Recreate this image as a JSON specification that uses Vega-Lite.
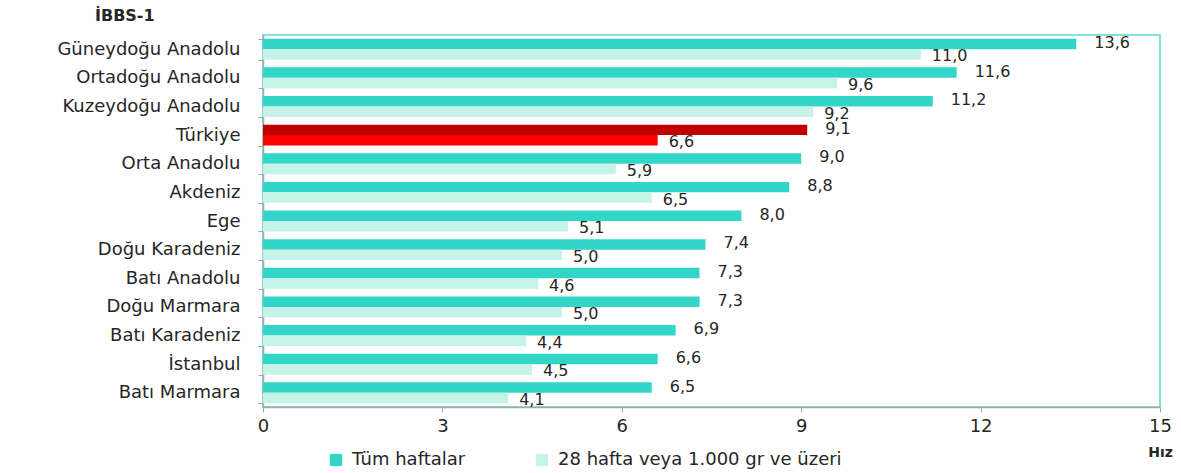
{
  "$schema": "https://vega.github.io/schema/vega-lite/v6.json",
  "width": 897,
  "height": 372,
  "autosize": {"type": "none"},
  "padding": {"left": 263, "top": 35, "right": 21, "bottom": 66},
  "background": "white",
  "title": {"text": "İBBS-1", "anchor": "start", "frame": "group", "dx": -168, "dy": 0, "offset": 2, "font": "DejaVu Sans", "fontSize": 16, "fontWeight": "bold", "color": "#262626"},
  "config": {
    "view": {"stroke": "#7FE3D9", "strokeWidth": 2},
    "font": "DejaVu Sans"
  },
  "data": {"values": [
    {"bolge": "Güneydoğu Anadolu", "seri": "Tüm haftalar", "deger": 13.6},
    {"bolge": "Güneydoğu Anadolu", "seri": "28 hafta veya 1.000 gr ve üzeri", "deger": 11.0},
    {"bolge": "Ortadoğu Anadolu", "seri": "Tüm haftalar", "deger": 11.6},
    {"bolge": "Ortadoğu Anadolu", "seri": "28 hafta veya 1.000 gr ve üzeri", "deger": 9.6},
    {"bolge": "Kuzeydoğu Anadolu", "seri": "Tüm haftalar", "deger": 11.2},
    {"bolge": "Kuzeydoğu Anadolu", "seri": "28 hafta veya 1.000 gr ve üzeri", "deger": 9.2},
    {"bolge": "Türkiye", "seri": "Tüm haftalar", "deger": 9.1},
    {"bolge": "Türkiye", "seri": "28 hafta veya 1.000 gr ve üzeri", "deger": 6.6},
    {"bolge": "Orta Anadolu", "seri": "Tüm haftalar", "deger": 9.0},
    {"bolge": "Orta Anadolu", "seri": "28 hafta veya 1.000 gr ve üzeri", "deger": 5.9},
    {"bolge": "Akdeniz", "seri": "Tüm haftalar", "deger": 8.8},
    {"bolge": "Akdeniz", "seri": "28 hafta veya 1.000 gr ve üzeri", "deger": 6.5},
    {"bolge": "Ege", "seri": "Tüm haftalar", "deger": 8.0},
    {"bolge": "Ege", "seri": "28 hafta veya 1.000 gr ve üzeri", "deger": 5.1},
    {"bolge": "Doğu Karadeniz", "seri": "Tüm haftalar", "deger": 7.4},
    {"bolge": "Doğu Karadeniz", "seri": "28 hafta veya 1.000 gr ve üzeri", "deger": 5.0},
    {"bolge": "Batı Anadolu", "seri": "Tüm haftalar", "deger": 7.3},
    {"bolge": "Batı Anadolu", "seri": "28 hafta veya 1.000 gr ve üzeri", "deger": 4.6},
    {"bolge": "Doğu Marmara", "seri": "Tüm haftalar", "deger": 7.3},
    {"bolge": "Doğu Marmara", "seri": "28 hafta veya 1.000 gr ve üzeri", "deger": 5.0},
    {"bolge": "Batı Karadeniz", "seri": "Tüm haftalar", "deger": 6.9},
    {"bolge": "Batı Karadeniz", "seri": "28 hafta veya 1.000 gr ve üzeri", "deger": 4.4},
    {"bolge": "İstanbul", "seri": "Tüm haftalar", "deger": 6.6},
    {"bolge": "İstanbul", "seri": "28 hafta veya 1.000 gr ve üzeri", "deger": 4.5},
    {"bolge": "Batı Marmara", "seri": "Tüm haftalar", "deger": 6.5},
    {"bolge": "Batı Marmara", "seri": "28 hafta veya 1.000 gr ve üzeri", "deger": 4.1}
  ]},
  "transform": [
    {"calculate": "replace(format(datum.deger, '.1f'), '.', ',')", "as": "etiket"}
  ],
  "encoding": {
    "y": {
      "field": "bolge", "type": "nominal", "sort": null,
      "scale": {"paddingInner": 0.27, "paddingOuter": 0.13},
      "axis": {"title": null, "domainColor": "#A6A6A6", "domainWidth": 1.5, "tickColor": "#A6A6A6", "tickSize": 5, "tickBand": "extent", "labelFontSize": 18, "labelColor": "#262626", "labelPadding": 18, "labelFont": "DejaVu Sans", "labelLimit": 300}
    },
    "yOffset": {"field": "seri", "type": "nominal", "sort": ["Tüm haftalar", "28 hafta veya 1.000 gr ve üzeri"]},
    "x": {
      "field": "deger", "type": "quantitative",
      "scale": {"domain": [0, 15], "nice": false},
      "axis": {"values": [0, 3, 6, 9, 12, 15], "grid": false, "domainColor": "#A6A6A6", "domainWidth": 1.5, "tickColor": "#A6A6A6", "tickSize": 5, "labelFontSize": 18, "labelColor": "#262626", "labelPadding": 5, "labelFlush": false, "labelFont": "DejaVu Sans", "title": "Hız", "titleFontSize": 14, "titleFontWeight": "bold", "titleColor": "#262626", "titleAnchor": "end", "titleAlign": "center", "titleX": 897, "titleY": 45, "titleBaseline": "middle"}
    }
  },
  "layer": [
    {
      "mark": {"type": "bar"},
      "encoding": {
        "color": {
          "field": "seri", "type": "nominal",
          "sort": ["Tüm haftalar", "28 hafta veya 1.000 gr ve üzeri"],
          "scale": {"domain": ["Tüm haftalar", "28 hafta veya 1.000 gr ve üzeri"], "range": ["#32D6C8", "#C6F3E8"]},
          "legend": {"title": null, "orient": "none", "direction": "horizontal", "legendX": 64, "legendY": 416, "symbolType": "square", "symbolSize": 150, "symbolStrokeWidth": 0, "labelFontSize": 18, "labelColor": "#262626", "labelFont": "DejaVu Sans", "labelLimit": 500, "columnPadding": 67, "labelOffset": 7},
          "condition": [
            {"test": "datum.bolge === 'Türkiye' && datum.seri === 'Tüm haftalar'", "value": "#C00000"},
            {"test": "datum.bolge === 'Türkiye'", "value": "#FF0000"}
          ]
        }
      }
    },
    {
      "transform": [{"filter": "datum.seri === 'Tüm haftalar'"}],
      "mark": {"type": "text", "align": "left", "baseline": "middle", "dx": 18, "dy": -1, "fontSize": 16, "color": "#262626", "font": "DejaVu Sans"},
      "encoding": {"text": {"field": "etiket"}}
    },
    {
      "transform": [{"filter": "datum.seri !== 'Tüm haftalar'"}],
      "mark": {"type": "text", "align": "left", "baseline": "middle", "dx": 11, "dy": 2, "fontSize": 16, "color": "#262626", "font": "DejaVu Sans"},
      "encoding": {"text": {"field": "etiket"}}
    }
  ]
}
